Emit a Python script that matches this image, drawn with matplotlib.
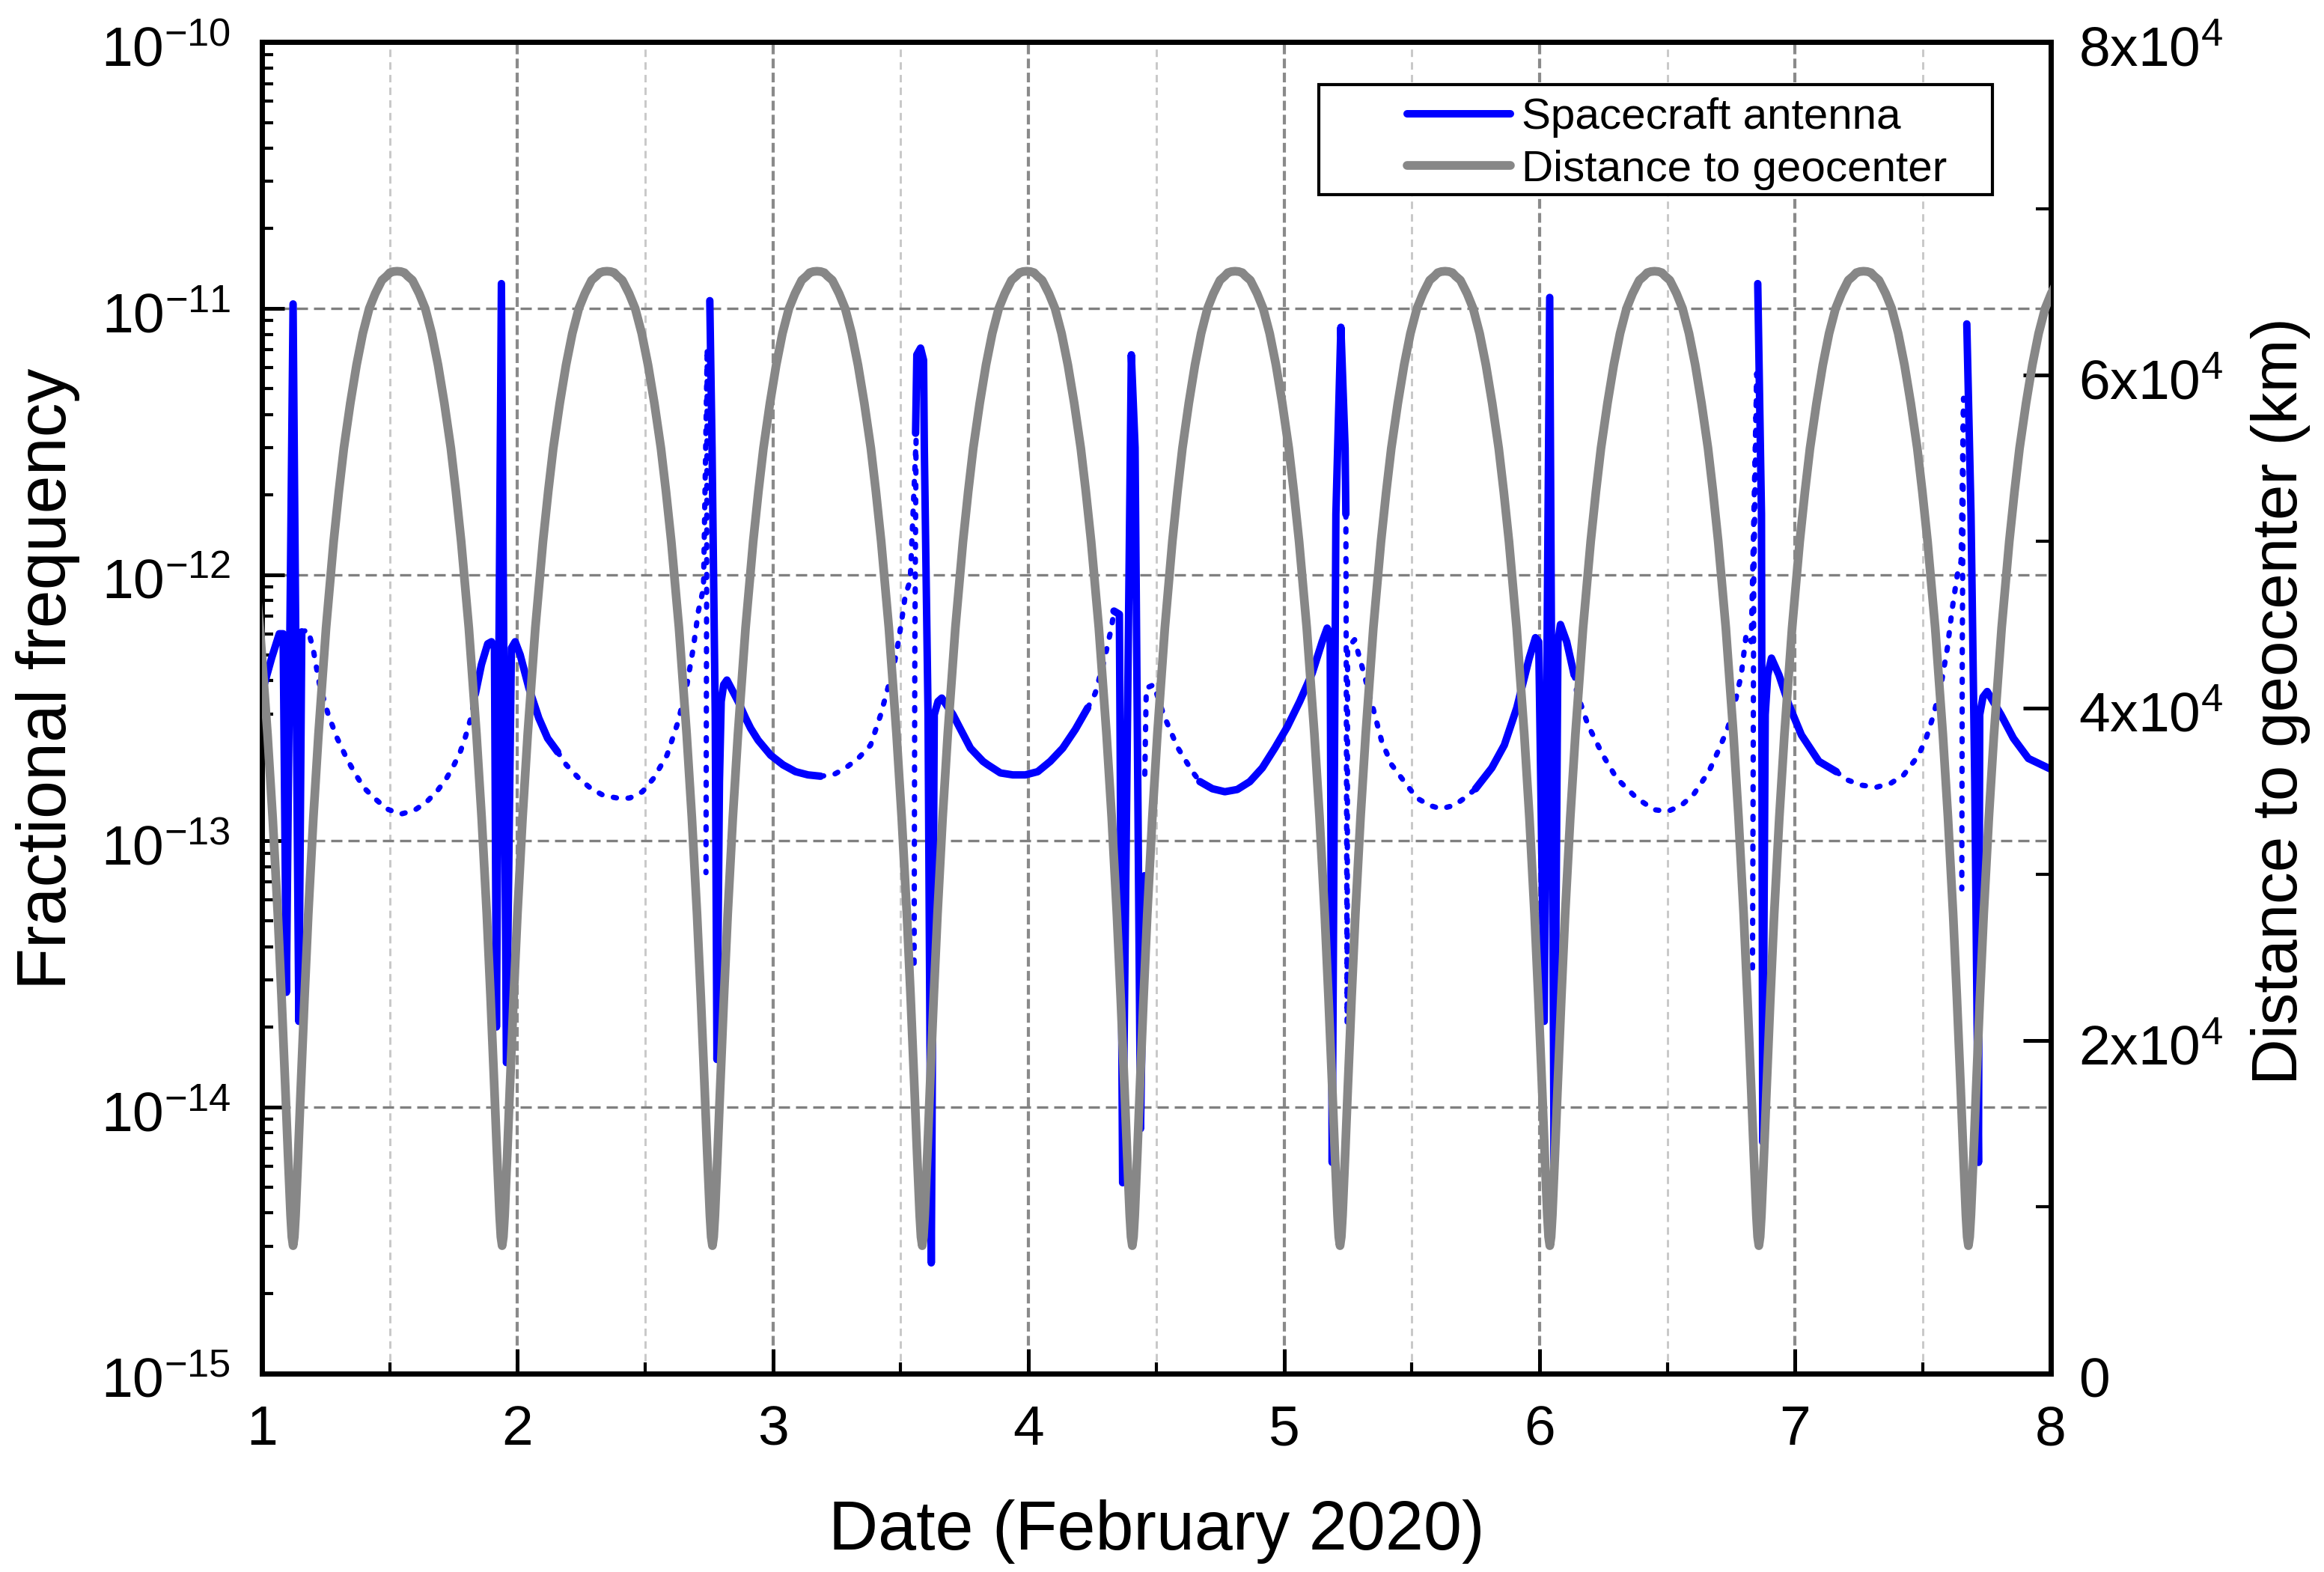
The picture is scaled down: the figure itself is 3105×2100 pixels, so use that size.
import numpy as np
import matplotlib
matplotlib.use("Agg")
import matplotlib.pyplot as plt
import matplotlib.transforms as mtransforms
from matplotlib.ticker import LogLocator, MultipleLocator, FixedLocator, FuncFormatter, NullFormatter
from matplotlib.lines import Line2D
from matplotlib.patches import Rectangle

plt.rcParams['font.family'] = ['Liberation Sans', 'DejaVu Sans']
plt.rcParams['mathtext.fontset'] = 'custom'
plt.rcParams['mathtext.rm'] = 'Liberation Sans'
plt.rcParams['mathtext.it'] = 'Liberation Sans:italic'
plt.rcParams['mathtext.bf'] = 'Liberation Sans:bold'

# ---------------- data ----------------
# orbit: times of perigee / apogee (days of February 2020)
perigee_days = [1.122, 1.940, 2.763, 3.584, 4.406, 5.219, 6.040, 6.858, 7.678]
apogee_days = [0.712, 1.529, 2.350, 3.172, 3.993, 4.808, 5.630, 6.450, 7.268, 8.088]
# distance profile from perigee (phase 0) to apogee (phase 1)
orbit_phase = [0.0, 0.012, 0.024, 0.049, 0.073, 0.110, 0.146, 0.195, 0.244,
               0.317, 0.390, 0.44, 0.488, 0.55, 0.610, 0.67, 0.732, 0.79,
               0.854, 0.90, 0.93, 0.965, 1.0]
orbit_dist_km = [7670, 8200, 9500, 13200, 17000, 22600, 27600, 33400, 38400,
                 44800, 50000, 53000, 55600, 58300, 60600, 62500, 64000, 64900,
                 65700, 65950, 66150, 66220, 66240]

# spacecraft antenna fractional frequency, solid parts (None = break)
solid_days = [
    1.000, 1.039, 1.068, 1.083, 1.0957, 1.122, 1.1445, 1.156, None,
    1.8348, 1.8592, 1.8836, 1.8983, 1.910, 1.9177, 1.9372, 1.9568, 1.9763, 1.991,
    2.0106, 2.0449, 2.0837, 2.118, 2.157, None,
    2.7527, 2.7615, 2.774, 2.7807, 2.7905, 2.7973, 2.807, 2.8197, 2.8636, 2.893,
    2.9124, 2.9417, 2.9905, 3.0394, 3.0882, 3.1369, 3.186, None,
    3.558, 3.5629, 3.5775, 3.5892, 3.5922, 3.6068, 3.6194, 3.6311, 3.6458, 3.6604,
    3.7043, 3.7336, 3.7727, 3.8215, 3.841, 3.8899, 3.9385, 3.9875, 4.036, 4.0851,
    4.1338, 4.1829, 4.2314, None,
    4.3345, 4.3555, 4.3682, 4.4023, 4.4169, 4.4383, 4.4539, None,
    4.6706, 4.7194, 4.7682, 4.817, 4.866, 4.9147, 4.9636, 5.0124, 5.0612, 5.1099,
    5.1491, 5.1686, 5.1803, 5.1882, 5.2028, 5.2223, 5.2388, 5.2418, None,
    5.7494, 5.8129, 5.8618, 5.9106, 5.9594, 5.9838, 5.9965, 6.018, 6.0395, 6.057,
    6.0717, 6.0815, 6.1059, 6.1352, None,
    6.8536, 6.8682, 6.873, 6.8829, 6.8926, 6.9073, 6.9366, 6.9757, 7.0245, 7.0928,
    7.161, None,
    7.6717, 7.6882, 7.7028, 7.7174, 7.7223, 7.735, 7.7516, 7.8053, 7.8541, 7.9127, 8.0,
]
solid_ff = [
    3.6e-13, 4.9e-13, 6.0e-13, 6.0e-13, 2.7e-14, 1.04e-11, 2.1e-14, 6.1e-13, None,
    3.55e-13, 4.6e-13, 5.5e-13, 5.6e-13, 5.3e-13, 2.0e-14, 1.24e-11, 1.47e-14, 5.3e-13, 5.6e-13,
    5.0e-13, 3.75e-13, 2.89e-13, 2.43e-13, 2.16e-13, None,
    1.07e-11, 3.0e-12, 2.98e-13, 1.51e-14, 1.67e-13, 3.34e-13, 3.86e-13, 4.02e-13, 3.34e-13, 2.89e-13,
    2.65e-13, 2.39e-13, 2.10e-13, 1.93e-13, 1.82e-13, 1.77e-13, 1.75e-13, None,
    3.4e-12, 6.7e-12, 7.1e-12, 6.4e-12, 3.0e-12, 2.98e-13, 2.6e-15, 2.98e-13, 3.34e-13, 3.44e-13,
    2.98e-13, 2.63e-13, 2.23e-13, 1.99e-13, 1.93e-13, 1.80e-13, 1.77e-13, 1.77e-13, 1.82e-13, 1.99e-13,
    2.23e-13, 2.62e-13, 3.16e-13, None,
    7.3e-13, 7.1e-13, 5.2e-15, 6.7e-12, 3.0e-12, 8.3e-15, 7.4e-14, None,
    1.67e-13, 1.57e-13, 1.53e-13, 1.56e-13, 1.67e-13, 1.88e-13, 2.23e-13, 2.68e-13, 3.34e-13, 4.26e-13,
    5.6e-13, 6.3e-13, 6.0e-13, 6.2e-15, 1.69e-12, 8.5e-12, 3.0e-12, 1.69e-12, None,
    1.57e-13, 1.88e-13, 2.29e-13, 3.16e-13, 4.86e-13, 5.8e-13, 5.6e-13, 2.1e-14, 1.10e-11, 5.4e-15,
    5.6e-13, 6.5e-13, 5.6e-13, 4.2e-13, None,
    1.24e-11, 1.69e-12, 7.4e-15, 2.98e-13, 4.2e-13, 4.86e-13, 4.2e-13, 3.24e-13, 2.5e-13, 1.99e-13,
    1.82e-13, None,
    8.75e-12, 1.69e-12, 1.67e-13, 6.2e-15, 2.98e-13, 3.47e-13, 3.64e-13, 2.98e-13, 2.43e-13, 2.04e-13, 1.86e-13,
]

# dotted parts
dotted_days = [
    1.156, 1.1804, 1.1999, 1.2246, 1.2587, 1.2929, 1.3319, 1.3661, 1.4003, 1.4393,
    1.4881, 1.5418, 1.5955, 1.6443, 1.6882, 1.7225, 1.7518, 1.7762, 1.7958, 1.8201, 1.8348, None,
    2.157, 2.191, 2.2399, 2.2887, 2.3375, 2.4058, 2.440, 2.489, 2.533, 2.5853,
    2.629, 2.6634, 2.688, 2.708, 2.728, 2.7426, 2.7377, None,
    3.186, 3.2355, 3.2843, 3.333, 3.3818, 3.421, 3.4497, 3.474, 3.4886, 3.5033,
    3.518, 3.537, 3.5599, 3.5551, 3.5521, None,
    4.2314, 4.2607, 4.295, 4.3243, 4.3345, None,
    4.455, 4.4608, 4.49, 4.529, 4.5827, 4.6413, 4.6706, None,
    5.2418, 5.2467, 5.2487, 5.276, 5.314, 5.3482, 5.3824, 5.4214, 5.4702, 5.519,
    5.569, 5.613, 5.6665, 5.7153, 5.7494, None,
    6.1352, 6.1449, 6.1889, 6.2475, 6.3011, 6.3792, 6.4474, 6.5011, 6.5548, 6.6036,
    6.6622, 6.70, 6.735, 6.76, 6.789, 6.8087, 6.8282, 6.8497, 6.838, 6.8331, None,
    7.161, 7.2001, 7.2587, 7.3173, 7.3759, 7.4247, 7.4833, 7.5126, 7.5419, 7.5712,
    7.5956, 7.6151, 7.6346, 7.6492, 7.659, 7.654, 7.6521,
]
dotted_ff = [
    6.1e-13, 6.2e-13, 5.3e-13, 3.9e-13, 3.0e-13, 2.45e-13, 2.04e-13, 1.78e-13, 1.58e-13, 1.45e-13,
    1.32e-13, 1.26e-13, 1.30e-13, 1.40e-13, 1.55e-13, 1.72e-13, 1.93e-13, 2.16e-13, 2.45e-13, 2.95e-13, 3.55e-13, None,
    2.16e-13, 1.93e-13, 1.72e-13, 1.57e-13, 1.48e-13, 1.44e-13, 1.45e-13, 1.53e-13, 1.72e-13, 2.10e-13,
    2.81e-13, 3.86e-13, 5.3e-13, 7.3e-13, 8.9e-13, 7.1e-12, 7.6e-14, None,
    1.75e-13, 1.77e-13, 1.88e-13, 2.04e-13, 2.29e-13, 2.97e-13, 3.75e-13, 4.59e-13, 5.46e-13, 6.7e-13,
    8.4e-13, 9.5e-13, 3.2e-12, 5.3e-13, 3.2e-14, None,
    3.16e-13, 3.58e-13, 4.72e-13, 6.31e-13, 7.3e-13, None,
    1.78e-13, 3.75e-13, 3.86e-13, 2.97e-13, 2.25e-13, 1.82e-13, 1.67e-13, None,
    1.69e-12, 2.08e-14, 5.3e-13, 5.7e-13, 4.2e-13, 3.15e-13, 2.36e-13, 1.93e-13, 1.67e-13, 1.45e-13,
    1.36e-13, 1.32e-13, 1.36e-13, 1.47e-13, 1.57e-13, None,
    4.2e-13, 3.63e-13, 2.73e-13, 2.10e-13, 1.72e-13, 1.45e-13, 1.31e-13, 1.29e-13, 1.36e-13, 1.50e-13,
    1.82e-13, 2.19e-13, 2.63e-13, 3.16e-13, 4.2e-13, 6.0e-13, 5.6e-13, 5.7e-12, 9.5e-13, 3.3e-14, None,
    1.82e-13, 1.70e-13, 1.62e-13, 1.59e-13, 1.65e-13, 1.77e-13, 2.10e-13, 2.43e-13, 2.98e-13, 3.86e-13,
    5.3e-13, 7.5e-13, 1.0e-12, 1.12e-12, 4.6e-12, 5.3e-13, 6.6e-14,
]

x_ticks = [1, 2, 3, 4, 5, 6, 7, 8]
right_ticks = [0, 20000, 40000, 60000, 80000]

legend_labels = ["Spacecraft antenna", "Distance to geocenter"]
x_label = "Date (February 2020)"
y_label = "Fractional frequency"
y2_label = "Distance to geocenter (km)"

# ---------------- build the orbit curve from the read profile ----------------
gray_t, gray_r = [], []
for i, p in enumerate(perigee_days):
    a_left, a_right = apogee_days[i], apogee_days[i + 1]
    for ph, r in zip(orbit_phase[::-1], orbit_dist_km[::-1]):
        gray_t.append(p - ph * (p - a_left))
        gray_r.append(r)
    for ph, r in zip(orbit_phase[1:], orbit_dist_km[1:]):
        gray_t.append(p + ph * (a_right - p))
        gray_r.append(r)

sx = np.array(solid_days, dtype=float)
sy = np.array(solid_ff, dtype=float)
dx = np.array(dotted_days, dtype=float)
dy = np.array(dotted_ff, dtype=float)

# ---------------- figure ----------------
BLUE = '#0000FF'
GRAY = '#878787'

fig = plt.figure(figsize=(10.35, 7.0), dpi=300)
ax = fig.add_axes([0.1127, 0.1264, 0.7697, 0.8467])
ax.set_yscale('log')

ax.plot(dx, dy, color=BLUE, lw=1.7, linestyle=(0, (0.6, 2.2)),
        dash_capstyle='round', zorder=3)
ax.plot(sx, sy, color=BLUE, lw=2.4, solid_capstyle='round',
        solid_joinstyle='round', zorder=3)

ax.set_xlim(1, 8)
ax.set_ylim(1e-15, 1e-10)

ax2 = ax.twinx()
ax2.plot(gray_t, gray_r, color=GRAY, lw=2.8, solid_joinstyle='round',
         solid_capstyle='round', zorder=3)
ax2.set_ylim(0, 80000)
ax2.set_xlim(1, 8)

# ticks
ax.xaxis.set_major_locator(FixedLocator(x_ticks))
ax.xaxis.set_minor_locator(MultipleLocator(0.5))
ax.yaxis.set_major_locator(LogLocator(base=10, numticks=10))
ax.yaxis.set_minor_locator(LogLocator(base=10, subs=np.arange(2, 10), numticks=20))
ax.yaxis.set_minor_formatter(NullFormatter())
ax.yaxis.set_major_formatter(FuncFormatter(
    lambda v, pos: r'$\mathregular{10^{%d}}$' % int(round(np.log10(v)))))
ax.xaxis.set_major_formatter(FuncFormatter(lambda v, pos: '%d' % v))

ax2.yaxis.set_major_locator(FixedLocator(right_ticks))
ax2.yaxis.set_minor_locator(MultipleLocator(10000))
ax2.yaxis.set_major_formatter(FuncFormatter(
    lambda v, pos: '0' if v == 0 else r'$\mathregular{%dx10^{4}}$' % int(round(v / 1e4))))

ax.tick_params(axis='both', which='both', direction='in', top=False, right=False)
ax.tick_params(axis='y', which='major', length=7.2, width=1.2, labelsize=18, pad=10)
ax.tick_params(axis='y', which='minor', length=3.6, width=1.0)
ax.tick_params(axis='x', which='major', length=7.9, width=1.2, labelsize=18, pad=10)
ax.tick_params(axis='x', which='minor', length=3.6, width=1.0)
ax2.tick_params(axis='y', which='major', direction='in', length=8.9, width=1.2,
                labelsize=18, pad=9)
ax2.tick_params(axis='y', which='minor', direction='in', length=4.8, width=1.0)
ax2.tick_params(axis='x', which='both', bottom=False, top=False, labelbottom=False)

for a in (ax, ax2):
    for s in a.spines.values():
        s.set_linewidth(1.6)

# grid
ax.grid(True, which='major', axis='y', color='#808080', linestyle=(0, (4.5, 2.4)), linewidth=0.8)
ax.grid(True, which='major', axis='x', color='#8a8a8a', linestyle=(0, (3.1, 1.4)), linewidth=1.0)
ax.grid(True, which='minor', axis='x', color='#c8c8c8', linestyle=(0, (3.4, 2.4)), linewidth=0.7)
ax.grid(False, which='minor', axis='y')
ax.set_axisbelow(True)

# labels
ax.set_xlabel(x_label, fontsize=22)
ax.xaxis.label.set_va('center')
ax.xaxis.set_label_coords(0.5, -0.1189)
ax.set_ylabel(y_label, fontsize=22)
ax.yaxis.label.set_va('center')
ax.yaxis.set_label_coords(-0.1197, 0.522)
ax2.set_ylabel(y2_label, fontsize=20.5)
ax2.yaxis.label.set_va('center')
ax2.yaxis.set_label_coords(1.1285, 0.505)

# nudge the y tick labels slightly down so the superscripts stay inside the figure
shift = mtransforms.ScaledTranslation(0, -1.2 / 72, fig.dpi_scale_trans)
for lab in ax.get_yticklabels() + ax2.get_yticklabels():
    lab.set_transform(lab.get_transform() + shift)

# legend
frame = Rectangle((0.5908, 0.8855), 0.3766, 0.0827, transform=ax2.transAxes,
                  facecolor='white', edgecolor='black', linewidth=1.0, zorder=4)
ax2.add_patch(frame)
handles = [Line2D([], [], color=BLUE, lw=2.4, solid_capstyle='round'),
           Line2D([], [], color=GRAY, lw=2.8, solid_capstyle='round')]
leg = ax2.legend(handles, legend_labels, loc='upper left',
                 bbox_to_anchor=(0.6402, 0.9584), frameon=False, fontsize=14,
                 borderpad=0, borderaxespad=0, handlelength=2.37,
                 handletextpad=0.26, labelspacing=0.26)
leg.set_zorder(5)

fig.savefig('out.png', dpi=300)
